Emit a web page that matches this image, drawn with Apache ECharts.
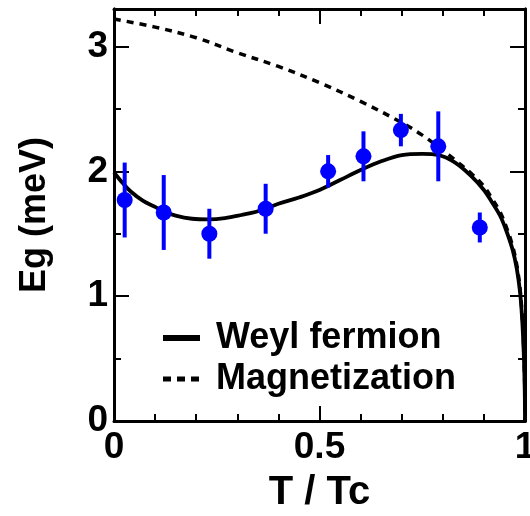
<!DOCTYPE html>
<html>
<head>
<meta charset="utf-8">
<script src="https://cdn.jsdelivr.net/npm/echarts@6/dist/echarts.min.js"></script>
<style>
  html, body { margin: 0; padding: 0; background: #fff; }
  #chart { width: 530px; height: 516px; }
</style>
</head>
<body>
<div id="chart"></div>
<script>
// Measured gap energies with error bars
const tMeasured = [0.026, 0.121, 0.232, 0.369, 0.521, 0.607, 0.698, 0.789, 0.890];
const egMeasured = [1.77, 1.67, 1.50, 1.70, 2.00, 2.12, 2.33, 2.20, 1.55];
const egError = [0.30, 0.30, 0.20, 0.20, 0.13, 0.20, 0.13, 0.28, 0.12];

// Weyl fermion model curve
const tWeyl = [0, 0.02, 0.04, 0.07, 0.10, 0.12, 0.15, 0.19, 0.23, 0.27, 0.31, 0.35, 0.40, 0.45,
  0.50, 0.55, 0.60, 0.65, 0.70, 0.75, 0.79, 0.83, 0.87, 0.90, 0.92, 0.94, 0.955, 0.97, 0.98,
  0.988, 0.993, 0.996, 0.998, 0.9995, 1.0];
const egWeyl = [1.99, 1.91, 1.84, 1.765, 1.715, 1.68, 1.645, 1.62, 1.615, 1.625, 1.65, 1.68, 1.74, 1.79,
  1.85, 1.93, 2.01, 2.08, 2.13, 2.14, 2.13, 2.07, 1.96, 1.85, 1.75, 1.64, 1.52, 1.37, 1.22,
  1.03, 0.82, 0.62, 0.44, 0.22, 0];

// Magnetization curve (scaled)
const tMag = [0, 0.10, 0.20, 0.30, 0.40, 0.50, 0.60, 0.70, 0.75, 0.80,
  0.83, 0.87, 0.90, 0.92, 0.94, 0.955, 0.97, 0.98, 0.988, 0.993, 0.996, 0.998, 0.9995, 1.0];
const egMag = [3.22, 3.155, 3.07, 2.95, 2.84, 2.71, 2.56, 2.39, 2.29, 2.17,
  2.09, 1.98, 1.88, 1.78, 1.67, 1.55, 1.40, 1.25, 1.06, 0.85, 0.65, 0.46, 0.24, 0];

const seriesNames = ['Weyl fermion', 'Magnetization'];
const axisNames = { x: 'T / Tc', y: 'Eg (meV)' };

const FONT = '"Liberation Sans", Arial, Helvetica, sans-serif';
const BLUE = '#0000ff';
const X_RANGE = [0, 1];
const Y_RANGE = [0, 3.3];

const lineBlack = { color: '#000', width: 3 };
const tickStyle = { color: '#000', width: 2 };

function xAxisDef(pos, withLabels) {
  return {
    type: 'value', position: pos, min: X_RANGE[0], max: X_RANGE[1], interval: 0.5,
    axisLine: { show: true, onZero: false, lineStyle: lineBlack },
    axisTick: { show: true, inside: true, length: 15, lineStyle: tickStyle },
    minorTick: { show: true, splitNumber: 5, length: 7, lineStyle: tickStyle },
    splitLine: { show: false }, minorSplitLine: { show: false },
    axisLabel: withLabels ? {
      show: true, margin: 8, color: '#000', fontFamily: FONT, fontWeight: 'bold', fontSize: 37
    } : { show: false },
    name: withLabels ? axisNames.x : '',
    nameLocation: 'middle', nameGap: 52,
    nameTextStyle: { color: '#000', fontFamily: FONT, fontWeight: 'bold', fontSize: 40 }
  };
}

function yAxisDef(pos, step, tickLen, withLabels) {
  return {
    type: 'value', position: pos, min: Y_RANGE[0], max: Y_RANGE[1], interval: step,
    axisLine: { show: true, onZero: false, lineStyle: lineBlack },
    axisTick: { show: true, inside: true, length: tickLen, lineStyle: tickStyle },
    splitLine: { show: false },
    axisLabel: withLabels ? {
      show: true, margin: 6, color: '#000', fontFamily: FONT, fontWeight: 'bold', fontSize: 37,
      formatter: v => (Number.isInteger(v) ? String(v) : '')
    } : { show: false },
    name: withLabels ? axisNames.y : '',
    nameLocation: 'middle', nameGap: 61, nameRotate: 90,
    nameTextStyle: { color: '#000', fontFamily: FONT, fontWeight: 'bold', fontSize: 36 }
  };
}

const chart = echarts.init(document.getElementById('chart'), null, { renderer: 'canvas' });

chart.setOption({
  animation: false,
  backgroundColor: '#fff',
  grid: { left: 114, right: 5, top: 9, bottom: 95, containLabel: false, outerBoundsMode: 'none' },
  xAxis: [xAxisDef('bottom', true), xAxisDef('top', false)],
  yAxis: [
    yAxisDef('left', 1, 15, true),
    yAxisDef('left', 0.5, 7, false),
    yAxisDef('right', 1, 15, false),
    yAxisDef('right', 0.5, 7, false)
  ],
  legend: {
    orient: 'vertical', left: 160, top: 320, padding: 0,
    itemWidth: 37, itemHeight: 14, itemGap: 5,
    itemStyle: { opacity: 0 },
    textStyle: {
      color: '#000', fontFamily: FONT, fontWeight: 'bold', fontSize: 36, lineHeight: 36,
      padding: [0, 0, 0, 11]
    },
    data: [
      { name: seriesNames[0], lineStyle: { width: 6 }, itemStyle: { opacity: 0 } },
      { name: seriesNames[1], lineStyle: { width: 5, type: [8, 6] }, itemStyle: { opacity: 0 } }
    ]
  },
  series: [
    {
      name: seriesNames[0], type: 'line', xAxisIndex: 0, yAxisIndex: 0,
      data: tWeyl.map((t, i) => [t, egWeyl[i]]),
      symbol: 'none', smooth: 0.35,
      lineStyle: { color: '#000', width: 3.8, type: 'solid' },
      itemStyle: { color: '#000' }, z: 2
    },
    {
      name: seriesNames[1], type: 'line', xAxisIndex: 0, yAxisIndex: 0,
      data: tMag.map((t, i) => [t, egMag[i]]),
      symbol: 'none', smooth: 0.35,
      lineStyle: { color: '#000', width: 3.5, type: [7, 6] },
      itemStyle: { color: '#000' }, z: 2
    },
    {
      name: 'error', type: 'custom', xAxisIndex: 0, yAxisIndex: 0,
      data: tMeasured.map((t, i) => [t, egMeasured[i] - egError[i], egMeasured[i] + egError[i]]),
      encode: { x: 0, y: [1, 2] },
      renderItem: (params, api) => {
        const x = api.value(0);
        const lo = api.coord([x, api.value(1)]);
        const hi = api.coord([x, api.value(2)]);
        return {
          type: 'line',
          shape: { x1: lo[0], y1: lo[1], x2: hi[0], y2: hi[1] },
          style: { stroke: BLUE, lineWidth: 4 }
        };
      },
      z: 5
    },
    {
      name: 'data', type: 'scatter', xAxisIndex: 0, yAxisIndex: 0,
      data: tMeasured.map((t, i) => [t, egMeasured[i]]),
      symbol: 'circle', symbolSize: 16,
      itemStyle: { color: BLUE, opacity: 1 }, z: 6
    }
  ]
});
</script>
</body>
</html>
